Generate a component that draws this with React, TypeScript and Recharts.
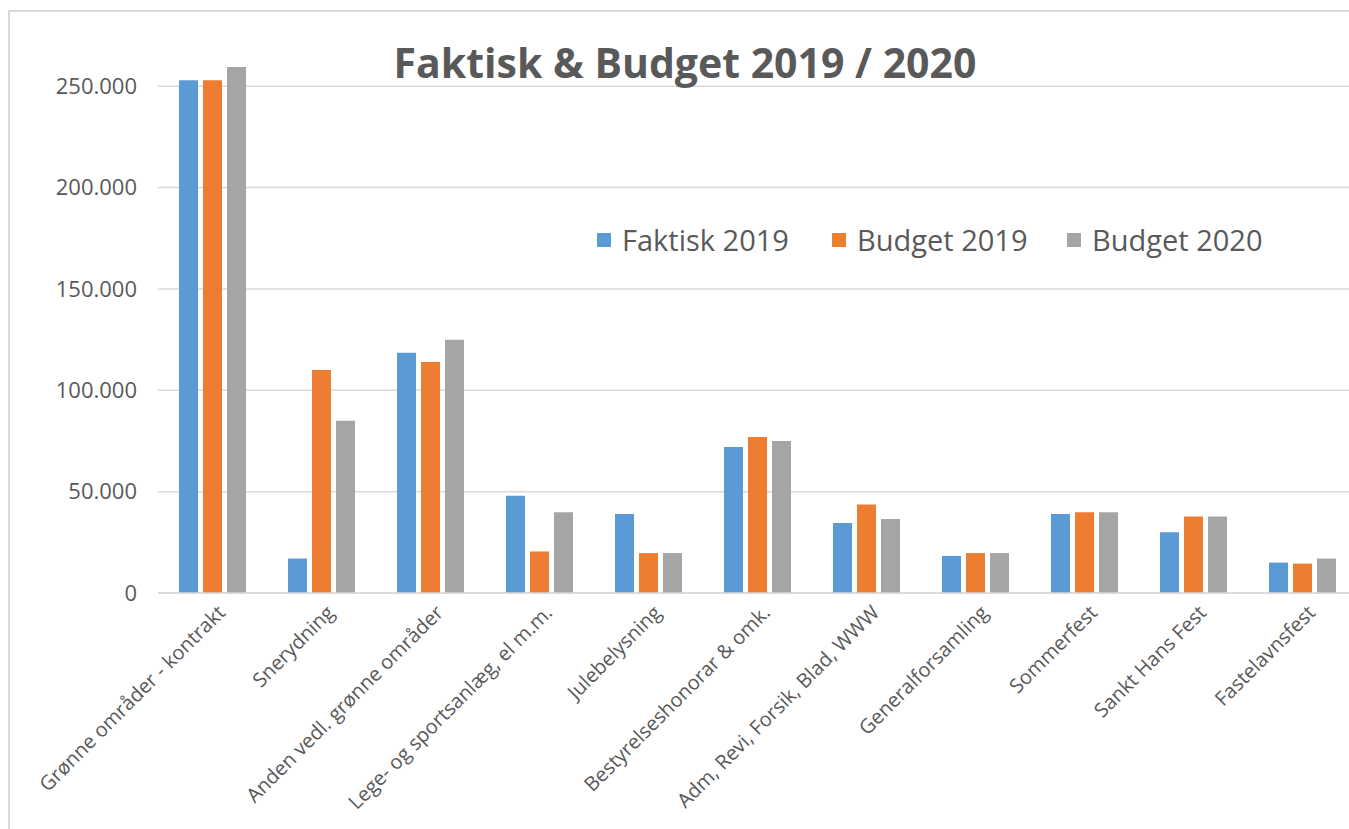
import React from "react";
import { BarChart, Bar, XAxis, YAxis, CartesianGrid } from "recharts";

// Kategorier og værdier
const categories = [
  "Grønne områder - kontrakt",
  "Snerydning",
  "Anden vedl. grønne områder",
  "Lege- og sportsanlæg, el m.m.",
  "Julebelysning",
  "Bestyrelseshonorar & omk.",
  "Adm, Revi, Forsik, Blad, WWW",
  "Generalforsamling",
  "Sommerfest",
  "Sankt Hans Fest",
  "Fastelavnsfest",
];

const faktisk2019 = [253000, 17000, 118500, 48000, 39000, 72000, 34500, 18300, 39000, 30000, 15000];
const budget2019 = [253000, 110000, 114000, 20500, 19700, 77000, 43700, 19700, 39800, 37700, 14500];
const budget2020 = [259500, 85000, 125000, 39800, 19700, 75000, 36500, 19700, 39800, 37700, 17000];

const yTicks = [0, 50000, 100000, 150000, 200000, 250000];

const seriesNames = ["Faktisk 2019", "Budget 2019", "Budget 2020"];
const seriesColors = ["#5B9BD5", "#ED7D31", "#A5A5A5"];

const data = categories.map((name, i) => ({
  name,
  faktisk2019: faktisk2019[i],
  budget2019: budget2019[i],
  budget2020: budget2020[i],
}));

const FONT = "'Open Sans', sans-serif";
const TEXT = "#595959";

// tusindtalsseparator med punktum
const fmt = (v: number) => String(v).replace(/\B(?=(\d{3})+(?!\d))/g, ".");

const AngledTick = ({ x, y, payload }: any) => (
  <g transform={`translate(${x + 9},${y + 8})`}>
    <text
      transform="rotate(-45)"
      textAnchor="end"
      dy="0.35em"
      fontSize={20}
      fontFamily={FONT}
      fill={TEXT}
    >
      {payload.value}
    </text>
  </g>
);

const LegendBox = () => (
  <div
    style={{
      position: "absolute",
      left: 597,
      top: 221,
      display: "flex",
      alignItems: "center",
      fontFamily: FONT,
    }}
  >
    {seriesNames.map((n, i) => (
      <div key={n} style={{ display: "flex", alignItems: "center", width: 235 }}>
        <span
          style={{
            display: "inline-block",
            width: 14,
            height: 14,
            background: seriesColors[i],
            marginRight: 11,
          }}
        />
        <span style={{ fontSize: 29, color: TEXT, lineHeight: "38px" }}>{n}</span>
      </div>
    ))}
  </div>
);

export default function App() {
  return (
    <div
      style={{
        position: "fixed",
        left: 0,
        top: 0,
        width: 1349,
        height: 829,
        overflow: "hidden",
        background: "#fff",
      }}
    >
      <div
        style={{
          position: "absolute",
          left: 8,
          top: 10,
          width: 1400,
          height: 900,
          border: "2px solid #d9d9d9",
          boxSizing: "border-box",
        }}
      />
      <div style={{ position: "absolute", left: 0, top: 0 }}>
        <BarChart
          width={1360}
          height={829}
          data={data}
          margin={{ top: 66, right: 3, left: 0, bottom: 0 }}
          barSize={19}
          barGap={5}
        >
          <CartesianGrid
            vertical={false}
            horizontalValues={yTicks}
            stroke="#d9d9d9"
            strokeWidth={1.5}
          />
          <XAxis
            dataKey="name"
            interval={0}
            height={236}
            tick={<AngledTick />}
            tickLine={false}
            axisLine={{ stroke: "#d9d9d9", strokeWidth: 1.5 }}
          />
          <YAxis
            width={158}
            domain={[0, 260000]}
            ticks={yTicks}
            tickFormatter={fmt}
            tickLine={false}
            axisLine={false}
            tickMargin={15}
            tick={{ fontSize: 22, fill: TEXT, fontFamily: FONT }}
          />
          <Bar dataKey="faktisk2019" name={seriesNames[0]} fill={seriesColors[0]} isAnimationActive={false} />
          <Bar dataKey="budget2019" name={seriesNames[1]} fill={seriesColors[1]} isAnimationActive={false} />
          <Bar dataKey="budget2020" name={seriesNames[2]} fill={seriesColors[2]} isAnimationActive={false} />
        </BarChart>
      </div>
      <div
        style={{
          position: "absolute",
          left: 0,
          top: 34,
          width: 1370,
          textAlign: "center",
          fontFamily: FONT,
          fontWeight: 700,
          fontSize: 41,
          color: TEXT,
        }}
      >
        Faktisk &amp; Budget 2019 / 2020
      </div>
      <LegendBox />
    </div>
  );
}
